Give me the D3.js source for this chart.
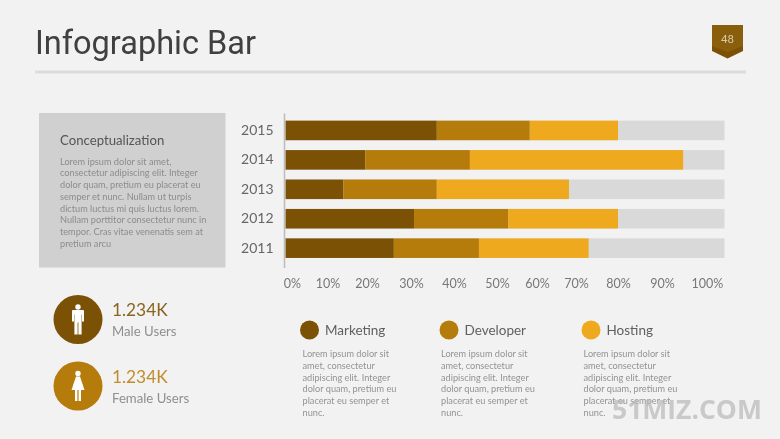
<!DOCTYPE html>
<html><head><meta charset="utf-8">
<script src="https://cdn.jsdelivr.net/npm/d3@7"></script>
<style>html,body{margin:0;padding:0;background:#f2f2f2;overflow:hidden}svg{display:block;filter:blur(.4px)}text{font-family:Lato,sans-serif}</style>
</head><body><svg id="c" width="780" height="439"></svg>
<script>
const years = ["2015","2014","2013","2012","2011"];
const marketing = [36,19.6,14,30.7,26.1];
const developer = [22.2,24.1,22,22.1,19.7];
const hosting = [21.8,51,32.2,27.2,27.2];
const tickValues = [0,10,20,30,40,50,60,70,80,90,100];
const seriesNames = ["Marketing","Developer","Hosting"];
const seriesColors = ["#7b5205","#b67c0b","#eea91f"];
const trackColor = "#d9d9d9";
const trackDomain = [-1.8,103.8];
const axisPixels = [285.5,292,327.5,367,411,454,497,537,576,618,662,707,724.5];
const cardTitle = "Conceptualization";
const cardLines = ["Lorem ipsum dolor sit amet,","consectetur adipiscing elit. Integer","dolor quam, pretium eu placerat eu","semper et nunc. Nullam ut turpis","dictum luctus mi quis luctus lorem.","Nullam porttitor consectetur nunc in","tempor. Cras vitae venenatis sem at","pretium arcu"];
const legendLines = ["Lorem ipsum dolor sit","amet, consectetur","adipiscing elit. Integer","dolor quam, pretium eu","placerat eu semper et","nunc."];

const svg = d3.select("#c");
const x = d3.scaleLinear().domain([trackDomain[0],...tickValues,trackDomain[1]]).range(axisPixels);
const y = d3.scaleBand().domain(years).range([115.8,262.8]).paddingInner(.335).paddingOuter(.165);

// header
svg.append("text").attr("x",35).attr("y",54).attr("font-size",32.5).attr("fill","#404040").style("font-family","Roboto").text("Infographic Bar");
svg.append("rect").attr("x",35).attr("y",70.5).attr("width",711).attr("height",3).attr("fill","#dcdcdc");
svg.append("path").attr("d","M712 25H743V51L727.5 58.5L712 51Z").attr("fill","#7b5205");
svg.append("path").attr("d","M712 25H743V46L727.5 52L712 46Z").attr("fill","#8a5f0b");
svg.append("text").attr("x",727.5).attr("y",43).attr("text-anchor","middle").attr("font-size",11.5).attr("fill","#d8c9a8").style("font-family","Roboto").text("48");

// card
svg.append("rect").attr("x",39).attr("y",113).attr("width",186.5).attr("height",154.5).attr("fill","#d0d0d0");
svg.append("text").attr("x",60).attr("y",145).attr("font-size",13.2).attr("fill","#555").text(cardTitle);
svg.append("g").selectAll("text").data(cardLines).join("text").attr("x",60).attr("y",(d,i)=>164.5+i*11.75).attr("font-size",9.2).attr("fill","#8c8c8c").text(d=>d);

// bars
const rows = years.map((yr,i)=>({year:yr,Marketing:marketing[i],Developer:developer[i],Hosting:hosting[i]}));
const stack = d3.stack().keys(seriesNames)(rows);
svg.append("g").selectAll("rect").data(years).join("rect")
  .attr("x",x(trackDomain[0])).attr("y",d=>y(d)).attr("width",x(trackDomain[1])-x(trackDomain[0])).attr("height",y.bandwidth()).attr("fill",trackColor);
svg.append("g").selectAll("g").data(stack).join("g").attr("fill",(d,i)=>seriesColors[i])
  .selectAll("rect").data(d=>d).join("rect")
  .attr("x",d=>d[0]===0?x(trackDomain[0]):x(d[0])).attr("y",d=>y(d.data.year))
  .attr("width",d=>x(d[1])-(d[0]===0?x(trackDomain[0]):x(d[0]))).attr("height",y.bandwidth());

// axes
const gy = svg.append("g").attr("transform","translate(284.5,0)").call(d3.axisLeft(y).tickSize(0).tickPadding(11));
gy.select(".domain").remove();
gy.selectAll("text").attr("font-size",14).attr("fill","#666").style("font-family","Lato");
svg.append("line").attr("x1",284.5).attr("x2",284.5).attr("y1",113.5).attr("y2",268).attr("stroke","#bdbdbd").attr("stroke-width",1.6);
const gx = svg.append("g").attr("transform","translate(0,271)").call(d3.axisBottom(x).tickValues(tickValues).tickFormat(d=>d+"%").tickSize(0).tickPadding(8));
gx.select(".domain").remove();
gx.selectAll("text").attr("font-size",12.5).attr("fill","#777").style("font-family","Lato");

// user stats
const users=[{cy:319.5,color:seriesColors[0],label:"Male Users",w:0,tc:"#8a6420"},{cy:386,color:seriesColors[1],label:"Female Users",w:1,tc:"#c08d2c"}];
users.forEach(u=>{
  svg.append("circle").attr("cx",78).attr("cy",u.cy).attr("r",24.5).attr("fill",u.color);
  const g=svg.append("g").attr("transform",`translate(78,${u.cy})`).attr("fill","#fff");
  g.append("circle").attr("cy",-12.5).attr("r",2.7);
  if(u.w===0){
    g.append("path").attr("d","M-6-8.5Q-6-9.5-5-9.5H5Q6-9.5 6-8.5V2H4V-5H3.6V15H.4V3H-.4V15H-3.6V-5H-4V2H-6Z");
  } else {
    g.append("path").attr("d","M-2-9.5H2L6.5 4H3V15H.6V4H-.6V15H-3V4H-6.5Z");
  }
  svg.append("text").attr("x",112).attr("y",u.cy-3.5).attr("font-size",17.3).attr("fill",u.tc).text("1.234K");
  svg.append("text").attr("x",112).attr("y",u.cy+16.5).attr("font-size",13.2).attr("fill","#8f8f8f").text(u.label);
});

// legend
const legX=[{c:309.5,t:325,b:302.5},{c:449,t:464.5,b:441},{c:591,t:606.5,b:583.5}];
seriesNames.forEach((n,i)=>{
  const l=legX[i];
  svg.append("circle").attr("cx",l.c).attr("cy",330).attr("r",9.5).attr("fill",seriesColors[i]);
  svg.append("text").attr("x",l.t).attr("y",335).attr("font-size",13.5).attr("fill","#606060").text(n);
  svg.append("g").selectAll("text").data(legendLines).join("text").attr("x",l.b).attr("y",(d,j)=>357+j*11.75).attr("font-size",9.2).attr("fill","#939393").text(d=>d);
});

// watermark
svg.append("text").attr("x",612).attr("y",419).attr("font-size",26.5).attr("font-weight",700).attr("fill","#b8b8b8").attr("fill-opacity",.7).style("font-family","Open Sans").text("51MIZ.COM");
</script></body></html>
